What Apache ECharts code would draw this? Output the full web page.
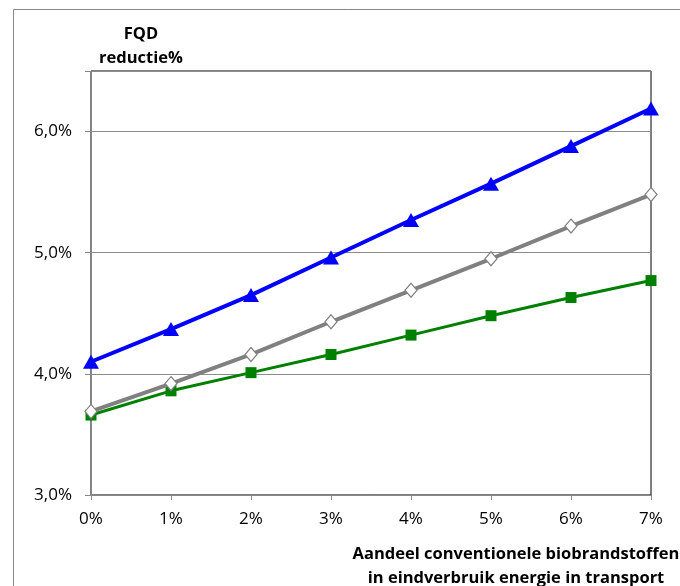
<!DOCTYPE html>
<html><head><meta charset="utf-8">
<script src="https://cdn.jsdelivr.net/npm/echarts@6/dist/echarts.min.js"></script>
<style>html,body{margin:0;padding:0;background:#fff}#c{width:680px;height:586px}</style>
</head><body><div id="c"></div>
<script>
const xValues = [0, 1, 2, 3, 4, 5, 6, 7];
const blueSeries = [4.10, 4.37, 4.65, 4.96, 5.27, 5.57, 5.88, 6.19];
const graySeries = [3.69, 3.92, 4.16, 4.43, 4.69, 4.95, 5.22, 5.48];
const greenSeries = [3.66, 3.86, 4.01, 4.16, 4.32, 4.48, 4.63, 4.77];
const yTitleLines = ['FQD', 'reductie%'];
const xTitleLines = ['Aandeel conventionele biobrandstoffen', 'in eindverbruik energie in transport'];

const font = '"Open Sans", sans-serif';
const pairs = arr => arr.map((v, i) => [xValues[i], v]);
const chart = echarts.init(document.getElementById('c'));
chart.setOption({
  animation: false,
  grid: {left: 91, top: 71, right: 29, bottom: 91, show: true, borderColor: '#000', borderWidth: 1, backgroundColor: 'transparent'},
  xAxis: {
    type: 'value', min: 0, max: 7, interval: 1,
    axisLine: {lineStyle: {color: '#888', width: 1}},
    axisTick: {show: true, length: 5, inside: false, lineStyle: {color: '#888'}},
    splitLine: {show: false},
    axisLabel: {color: '#000', fontFamily: font, fontSize: 17, margin: 16, formatter: v => v + '%'}
  },
  yAxis: {
    type: 'value', min: 3, max: 6.5, interval: 1,
    axisLine: {show: true, lineStyle: {color: '#888', width: 1}},
    axisTick: {show: true, length: 6, lineStyle: {color: '#888'}},
    splitLine: {show: true, lineStyle: {color: '#8c8c8c', width: 1}},
    axisLabel: {color: '#000', fontFamily: font, fontSize: 17, margin: 19,
      formatter: v => (v === 6.5 ? '' : v.toFixed(1).replace('.', ',') + '%')}
  },
  series: [
    {type: 'line', data: pairs(greenSeries), symbol: 'rect', symbolSize: 11,
      lineStyle: {color: '#008000', width: 3}, itemStyle: {color: '#008000'}, z: 3},
    {type: 'line', data: pairs(graySeries), symbol: 'diamond', symbolSize: [12, 14],
      lineStyle: {color: '#808080', width: 4}, itemStyle: {color: '#fff', borderColor: '#808080', borderWidth: 1.2}, z: 4},
    {type: 'line', data: pairs(blueSeries), symbol: 'triangle', symbolSize: [16, 14],
      lineStyle: {color: '#0000ff', width: 4}, itemStyle: {color: '#0000ff'}, z: 5}
  ],
  graphic: [
    {type: 'rect', left: 11, top: 7, shape: {width: 700, height: 620}, style: {fill: 'none', stroke: '#888', lineWidth: 1}, silent: true},
    {type: 'text', x: 141, y: 34, style: {text: yTitleLines[0], fontFamily: font, fontWeight: 'bold', fontSize: 16.5, fill: '#000', textAlign: 'center', textVerticalAlign: 'middle'}},
    {type: 'text', x: 141, y: 58, style: {text: yTitleLines[1], fontFamily: font, fontWeight: 'bold', fontSize: 16.5, fill: '#000', textAlign: 'center', textVerticalAlign: 'middle'}},
    {type: 'text', x: 516, y: 554, style: {text: xTitleLines[0], fontFamily: font, fontWeight: 'bold', fontSize: 16.5, fill: '#000', textAlign: 'center', textVerticalAlign: 'middle'}},
    {type: 'text', x: 516, y: 578, style: {text: xTitleLines[1], fontFamily: font, fontWeight: 'bold', fontSize: 16.5, fill: '#000', textAlign: 'center', textVerticalAlign: 'middle'}}
  ]
});
</script></body></html>
